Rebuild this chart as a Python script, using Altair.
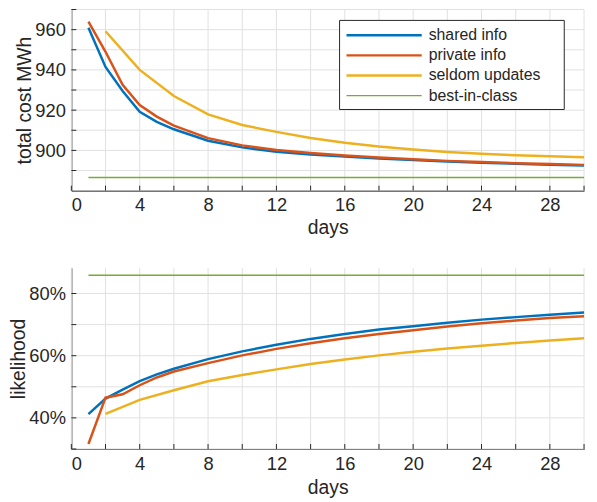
import altair as alt
import pandas as pd

series = ["shared info", "private info", "seldom updates", "best-in-class"]
colors = ["#0072BD", "#D95319", "#EDB120", "#77AC30"]

days = [1, 2, 3, 4, 5, 6, 8, 10, 12, 14, 16, 18, 20, 22, 24, 26, 28, 30]

cost_shared = [961.0, 941.5, 929.5, 919.2, 914.2, 910.5, 904.8, 901.5, 899.3, 897.9,
               896.9, 896.0, 895.2, 894.5, 893.9, 893.4, 892.9, 892.5]
cost_private = [964.0, 949.0, 932.6, 922.5, 916.8, 912.3, 906.1, 902.5, 900.2, 898.7,
                897.5, 896.5, 895.6, 894.8, 894.2, 893.6, 893.2, 892.8]
cost_seldom = [None, 959.2, None, 940.0, None, 927.0, 917.9, 912.6, 909.2, 906.2,
               903.8, 901.9, 900.4, 899.2, 898.3, 897.6, 897.1, 896.6]
cost_best = [886.5] * len(days)

lik_shared = [0.412, 0.462, 0.491, 0.518, 0.540, 0.558, 0.589, 0.614, 0.635, 0.654,
              0.670, 0.684, 0.695, 0.706, 0.716, 0.724, 0.732, 0.739]
lik_private = [0.316, 0.465, 0.476, 0.505, 0.530, 0.549, 0.576, 0.601, 0.622, 0.640,
               0.656, 0.670, 0.682, 0.694, 0.704, 0.713, 0.721, 0.727]
lik_seldom = [None, 0.413, None, 0.458, None, 0.489, 0.518, 0.538, 0.556, 0.573,
              0.588, 0.601, 0.613, 0.623, 0.632, 0.641, 0.649, 0.656]
lik_best = [0.859] * len(days)

x_minor = list(range(0, 31, 2))
x_labels = list(range(0, 30, 4))
cost_minor = [890, 900, 910, 920, 930, 940, 950, 960, 970]
cost_labels = [900, 920, 940, 960]
lik_minor = [0.3, 0.4, 0.5, 0.6, 0.7, 0.8]
lik_labels = [0.4, 0.6, 0.8]

FONT = "Liberation Sans"
INK = "#262626"
GRID = "#e1e1e1"
W, H1, H2 = 518, 183, 183


def long_frame(cols):
    rows = []
    for name, vals in zip(series, cols):
        for d, v in zip(days, vals):
            if v is not None:
                rows.append({"day": d, "value": v, "series": name})
    return pd.DataFrame(rows)


cost_df = long_frame([cost_shared, cost_private, cost_seldom, cost_best])
lik_df = long_frame([lik_shared, lik_private, lik_seldom, lik_best])

color_scale = alt.Scale(domain=series, range=colors)


def panel(df, dom, yminor, ylabels, ytitle, yfmt, h, legend, lpad):
    xs = alt.Scale(domain=[0, 30], nice=False)
    ys = alt.Scale(domain=dom, nice=False, zero=False)
    xa = alt.Axis(values=x_labels, title="days", tickSize=0, grid=False,
                  labelPadding=lpad, titlePadding=5)
    ya = alt.Axis(values=ylabels, title=ytitle, format=yfmt, tickSize=0, grid=False,
                  labelPadding=6, titlePadding=0)

    def X():
        return alt.X("day:Q", scale=xs, axis=xa)

    def Y():
        return alt.Y("value:Q", scale=ys, axis=ya)

    xg = alt.Chart(pd.DataFrame({"day": x_minor})).mark_rule(color=GRID, strokeWidth=1).encode(
        x=X(), y=alt.value(0), y2=alt.value(h)
    )
    yg = alt.Chart(pd.DataFrame({"value": yminor})).mark_rule(color=GRID, strokeWidth=1).encode(
        y=Y(), x=alt.value(0), x2=alt.value(W)
    )
    main = df[df["series"] != "best-in-class"]
    best = df[df["series"] == "best-in-class"]
    lines = alt.Chart(main).mark_line(strokeWidth=2.5).encode(
        x=X(), y=Y(),
        color=alt.Color("series:N", scale=color_scale, legend=None),
        order=alt.Order("day:Q"),
    )
    bline = alt.Chart(best).mark_line(strokeWidth=1.5).encode(
        x=X(), y=Y(),
        color=alt.Color("series:N", scale=color_scale, legend=None),
        order=alt.Order("day:Q"),
    )
    xt = alt.Chart(pd.DataFrame({"day": x_minor})).mark_rule(color=INK, strokeWidth=1).encode(
        x=X(), y=alt.value(h), y2=alt.value(h - 5)
    )
    yt = alt.Chart(pd.DataFrame({"value": yminor})).mark_rule(color=INK, strokeWidth=1).encode(
        y=Y(), x=alt.value(0), x2=alt.value(5)
    )
    chart = alt.layer(xg, yg, bline, lines, xt, yt)
    if legend:
        leg_df = pd.DataFrame({"series": series, "w": [2.5, 2.5, 2.5, 1.5]})
        box = alt.Chart(pd.DataFrame({"k": [0]})).mark_rect(
            fill="white", stroke=INK, strokeWidth=1
        ).encode(x=alt.value(271), x2=alt.value(498), y=alt.value(11), y2=alt.value(101))
        ly = alt.Y("series:N", scale=alt.Scale(type="point", domain=series, range=[26, 87], padding=0), axis=None)
        lrules = alt.Chart(leg_df).mark_rule().encode(
            x=alt.value(278), x2=alt.value(354), y=ly,
            color=alt.Color("series:N", scale=color_scale, legend=None),
            strokeWidth=alt.StrokeWidth("w:Q", scale=None, legend=None),
        )
        ltext = alt.Chart(leg_df).mark_text(
            align="left", baseline="middle", fontSize=16, font=FONT, color=INK
        ).encode(x=alt.value(361), y=ly, text="series:N")
        legend_layer = alt.layer(box, lrules, ltext)
        chart = alt.layer(chart, legend_layer).resolve_scale(y="independent")
    return chart.properties(width=W, height=h)


top = panel(cost_df, [880, 970], cost_minor, cost_labels, "total cost MWh", "d", H1, True, 5)
bottom = panel(lik_df, [0.30, 0.8825], lik_minor, lik_labels, "likelihood", ".0%", H2, False, 6)

chart = alt.vconcat(top, bottom, spacing=30).properties(
    padding={"left": 0, "top": -2, "right": 0, "bottom": 0},
    background="white",
).configure_view(stroke=None).configure_axis(
    domainColor=INK,
    domainWidth=1,
    labelFont=FONT,
    titleFont=FONT,
    labelFontSize=18.5,
    titleFontSize=19.5,
    labelColor=INK,
    titleColor=INK,
    titleFontWeight="normal",
)

chart.save("out.html", embed_options={"renderer": "svg", "actions": False})
